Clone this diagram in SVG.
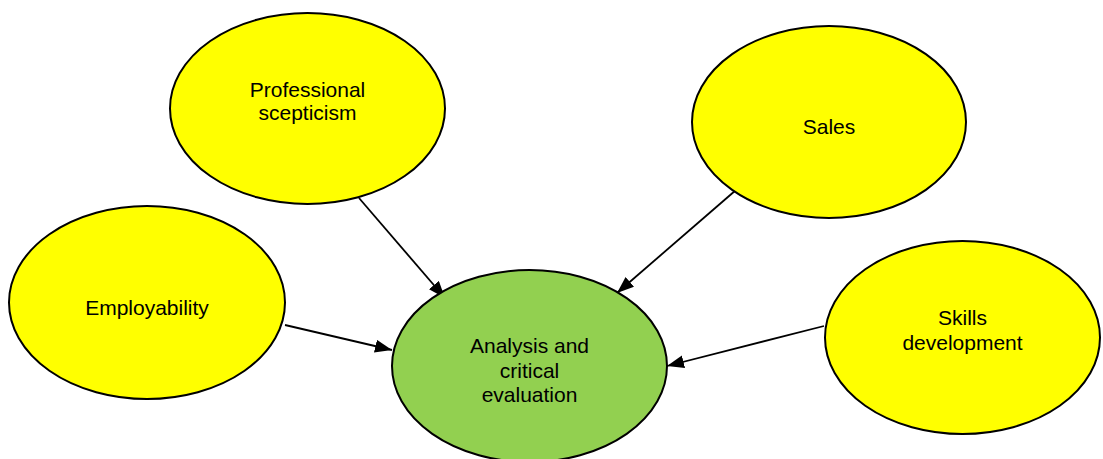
<svg xmlns="http://www.w3.org/2000/svg" width="1103" height="459" viewBox="0 0 1103 459">
  <style>
    .node { stroke: #000; stroke-width: 2; }
    .topic { fill: #FFFF00; }
    .core { fill: #92D050; }
    .label { font-family: "Liberation Sans", Arial, sans-serif; font-size: 21px; fill: #000; text-anchor: middle; }
    .link { stroke: #000; stroke-width: 1.8; fill: none; marker-end: url(#arrow); }
  </style>
  <defs>
    <marker id="arrow" markerUnits="userSpaceOnUse" markerWidth="20" markerHeight="16" refX="17" refY="6.5" orient="auto">
      <path d="M0,0 L17,6.5 L0,13 Z" fill="#000"/>
    </marker>
  </defs>
  <rect width="1103" height="459" fill="#fff"/>

  <g id="connectors">
    <line class="link" x1="359" y1="198" x2="445" y2="298"/>
    <line class="link" x1="285" y1="325" x2="392" y2="350"/>
    <line class="link" x1="736" y1="190" x2="617" y2="293"/>
    <line class="link" x1="824" y1="326" x2="667" y2="366"/>
  </g>

  <g id="professional-scepticism">
    <ellipse class="node topic" cx="307.5" cy="108.5" rx="137.5" ry="95.5"/>
    <text class="label" x="307.5" y="97">Professional</text>
    <text class="label" x="307.5" y="120">scepticism</text>
  </g>

  <g id="sales">
    <ellipse class="node topic" cx="829" cy="122" rx="137" ry="96"/>
    <text class="label" x="829" y="134">Sales</text>
  </g>

  <g id="employability">
    <ellipse class="node topic" cx="147" cy="302.5" rx="138" ry="96.5"/>
    <text class="label" x="147" y="315">Employability</text>
  </g>

  <g id="skills-development">
    <ellipse class="node topic" cx="962.5" cy="337.5" rx="137.5" ry="96.5"/>
    <text class="label" x="962.5" y="325">Skills</text>
    <text class="label" x="962.5" y="350">development</text>
  </g>

  <g id="analysis-critical-evaluation">
    <ellipse class="node core" cx="529.5" cy="366" rx="137.5" ry="96"/>
    <text class="label" x="529.5" y="353">Analysis and</text>
    <text class="label" x="529.5" y="378">critical</text>
    <text class="label" x="529.5" y="402">evaluation</text>
  </g>
</svg>
